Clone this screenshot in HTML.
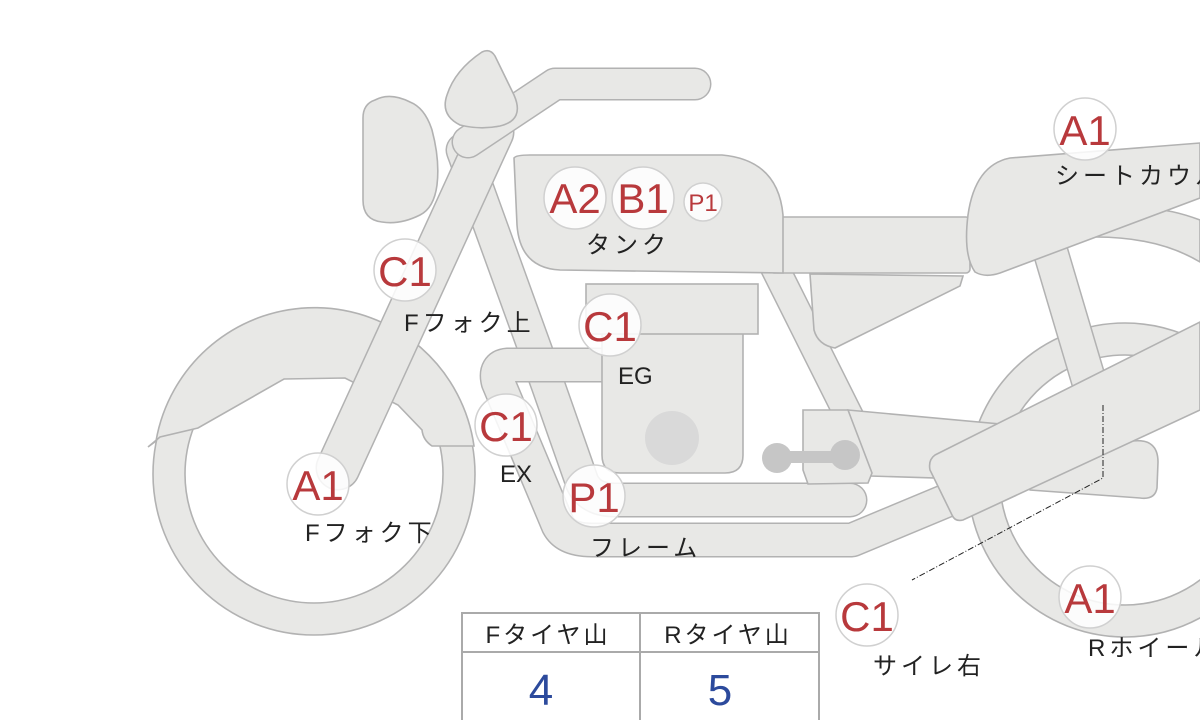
<!DOCTYPE html>
<html><head><meta charset="utf-8"><style>
html,body{margin:0;padding:0;background:#fff;}
svg{display:block;}
.s{fill:#e8e8e6;stroke:#b2b2b2;stroke-width:1.6;}
.bo{fill:none;stroke:#b2b2b2;}
.bi{fill:none;stroke:#e8e8e6;}
.c{fill:#fff;fill-opacity:.85;stroke:#d0d0d0;stroke-width:1.5;}
.r{fill:#b8393c;font-family:"Liberation Sans",sans-serif;text-anchor:middle;}
.k{fill:#222;font-family:"Liberation Sans","Noto Sans CJK JP",sans-serif;font-size:24px;letter-spacing:4px;}
</style></head><body>
<svg width="1200" height="720" viewBox="0 0 1200 720" xmlns="http://www.w3.org/2000/svg">
<!-- rear wheel -->
<path class="s" fill-rule="evenodd" d="M968,480a157,157 0 1,0 314,0a157,157 0 1,0 -314,0Z M1000,480a125,125 0 1,0 250,0a125,125 0 1,0 -250,0Z"/>
<!-- front wheel -->
<path class="s" fill-rule="evenodd" d="M153,474a161,161 0 1,0 322,0a161,161 0 1,0 -322,0Z M185,474a129,129 0 1,0 258,0a129,129 0 1,0 -258,0Z"/>
<!-- front fender -->
<path class="s" d="M148,447 L156,441 A161,161 0 0 1 474,446 L432,446 Q423,440 422,430 L398,405 L345,378 L284,379 L198,428 L160,437 Z"/>
<!-- frame downtube -->
<path class="bo" stroke-width="35" stroke-linecap="round" stroke-linejoin="round" d="M463,150 L548,385 L582,482 Q590,500 615,500 L850,500"/>
<path class="bi" stroke-width="32" stroke-linecap="round" stroke-linejoin="round" d="M463,150 L548,385 L582,482 Q590,500 615,500 L850,500"/>
<!-- rear shock strut -->
<path class="bo" stroke-width="36" d="M1050,250 L1090,385"/>
<path class="bi" stroke-width="33" d="M1050,250 L1090,385"/>
<path class="s" d="M1070,238 Q1150,232 1200,262 L1200,220 Q1160,205 1130,210 Z"/>
<!-- rear frame tube -->
<path class="bo" stroke-width="30" d="M772,262 L850,418"/>
<path class="bi" stroke-width="27" d="M772,262 L850,418"/>
<!-- swingarm -->
<path class="s" d="M848,410 L1000,424 L1000,480 L870,476 Z"/>
<path class="s" d="M803,410 L848,410 L872,473 L868,483 L808,484 L803,470 Z"/>
<!-- chain guard -->
<path class="s" d="M1015,470 L1132,441 Q1158,438 1158,462 L1157,488 Q1155,500 1140,498 L1030,490 Z"/>
<!-- EX pipe -->
<path class="bo" stroke-width="35" stroke-linejoin="round" d="M603,365 L508,365 Q494,366 498,382 L558,525 Q566,540 592,540 L852,540 L960,495"/>
<path class="bi" stroke-width="32" stroke-linejoin="round" d="M603,365 L508,365 Q494,366 498,382 L558,525 Q566,540 592,540 L852,540 L960,495"/>
<!-- muffler -->
<path class="s" d="M935,455 L1200,322 L1200,410 L963,520 Q955,522 952,515 L930,470 Q928,460 935,455 Z"/>
<!-- engine -->
<path class="s" d="M602,333 L743,333 L743,455 Q743,473 725,473 L620,473 Q602,473 602,455 Z"/>
<circle cx="672" cy="438" r="27" fill="#d9d9d9"/>
<rect class="s" x="586" y="284" width="172" height="50"/>
<!-- dumbbell -->
<rect x="777" y="451" width="68" height="12" fill="#c6c6c6"/>
<circle cx="777" cy="458" r="15" fill="#c6c6c6"/><circle cx="845" cy="455" r="15" fill="#c6c6c6"/>
<!-- side cover -->
<path class="s" d="M810,274 L963,276 L960,286 L835,348 Q818,345 814,330 Z"/>
<!-- seat -->
<rect class="s" x="770" y="217" width="200" height="56" rx="4"/>
<!-- seat cowl -->
<path class="s" d="M975,272 Q963,255 968,215 Q975,165 1010,158 L1200,143 L1200,198 L1000,273 Q985,278 975,272 Z"/>
<!-- tank -->
<path class="s" d="M514,158 Q516,155 530,155 L722,155 Q778,160 783,215 L783,273 L560,270 Q520,268 517,225 Z"/>
<!-- fork -->
<path class="bo" stroke-width="45" stroke-linecap="round" d="M338,468 L492,132"/>
<path class="bi" stroke-width="42" stroke-linecap="round" d="M338,468 L492,132"/>
<!-- handlebar -->
<path class="bo" stroke-width="33" stroke-linecap="round" stroke-linejoin="round" d="M468,142 L555,84 L695,84"/>
<path class="bi" stroke-width="30" stroke-linecap="round" stroke-linejoin="round" d="M468,142 L555,84 L695,84"/>
<!-- instrument -->
<path class="s" d="M482,52 Q490,48 495,56 L514,95 Q525,120 500,126 Q480,130 460,125 Q440,115 447,95 Q455,70 482,52 Z"/>
<!-- headlight -->
<path class="s" d="M375,100 Q390,92 410,102 Q425,108 432,130 Q440,160 437,185 Q434,208 420,215 Q400,225 382,222 Q363,220 363,200 L363,118 Q363,104 375,100 Z"/>
<!-- leader lines -->
<path d="M1103,405 L1103,478 L912,580" fill="none" stroke="#222" stroke-width="1" stroke-dasharray="6,2,1,2"/>
<!-- badges -->
<g>
<circle class="c" cx="575" cy="198" r="31"/><text class="r" x="575" y="213" font-size="42">A2</text>
<circle class="c" cx="643" cy="198" r="31"/><text class="r" x="643" y="213" font-size="42">B1</text>
<circle class="c" cx="703" cy="202" r="19"/><text class="r" x="703" y="211" font-size="24">P1</text>
<circle class="c" cx="405" cy="270" r="31"/><text class="r" x="405" y="286" font-size="42">C1</text>
<circle class="c" cx="610" cy="325" r="31"/><text class="r" x="610" y="341" font-size="42">C1</text>
<circle class="c" cx="506" cy="425" r="31"/><text class="r" x="506" y="441" font-size="42">C1</text>
<circle class="c" cx="318" cy="484" r="31"/><text class="r" x="318" y="500" font-size="42">A1</text>
<circle class="c" cx="594" cy="496" r="31"/><text class="r" x="594" y="512" font-size="42">P1</text>
<circle class="c" cx="1085" cy="129" r="31"/><text class="r" x="1085" y="145" font-size="42">A1</text>
<circle class="c" cx="867" cy="615" r="31"/><text class="r" x="867" y="631" font-size="42">C1</text>
<circle class="c" cx="1090" cy="597" r="31"/><text class="r" x="1090" y="613" font-size="42">A1</text>
</g>
<text class="k" x="586" y="253">タンク</text>
<text class="k" x="404" y="331">Fフォク上</text>
<text class="k" x="618" y="384" style="letter-spacing:0">EG</text>
<text class="k" x="500" y="482" style="letter-spacing:0">EX</text>
<text class="k" x="305" y="541">Fフォク下</text>
<text class="k" x="590" y="556">フレーム</text>
<text class="k" x="1055" y="184">シートカウル</text>
<text class="k" x="873" y="674">サイレ右</text>
<text class="k" x="1088" y="656">Rホイール</text>
<!-- table -->
<rect x="462" y="613" width="357" height="110" fill="#fff" stroke="#aaa" stroke-width="2"/>
<line x1="462" y1="652" x2="819" y2="652" stroke="#aaa" stroke-width="2"/>
<line x1="640" y1="613" x2="640" y2="720" stroke="#aaa" stroke-width="2"/>
<text class="k" x="548" y="643" text-anchor="middle" style="letter-spacing:3px">Fタイヤ山</text>
<text class="k" x="728" y="643" text-anchor="middle" style="letter-spacing:3px">Rタイヤ山</text>
<text x="541" y="705" fill="#2c4a9c" font-family="Liberation Sans,sans-serif" font-size="44" text-anchor="middle">4</text>
<text x="720" y="705" fill="#2c4a9c" font-family="Liberation Sans,sans-serif" font-size="44" text-anchor="middle">5</text>
</svg>
</body></html>
